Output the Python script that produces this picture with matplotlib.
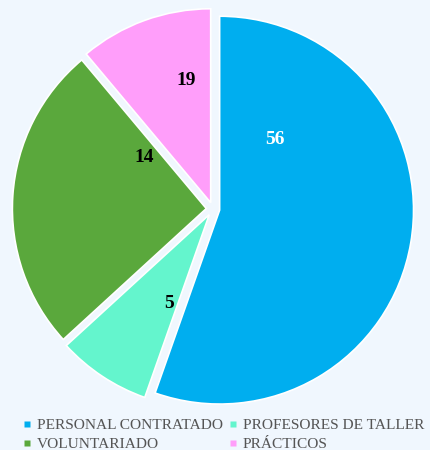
import numpy as np
import matplotlib.pyplot as plt
from matplotlib.lines import Line2D

# slice sizes and the labels shown on them
categories = ["PERSONAL CONTRATADO", "PROFESORES DE TALLER", "VOLUNTARIADO", "PRÁCTICOS"]
sizes = [55.4, 7.8, 25.7, 11.1]
shown_labels = ["56", "5", "14", "19"]
colors = ["#00AEEF", "#64F5CD", "#5AA83C", "#FF9EFA"]
label_colors = ["white", "black", "black", "black"]
# where the labels sit, in pie-radius units from the centre
label_pos = [(0.32, 0.36), (-0.23, -0.49), (-0.36, 0.27), (-0.14, 0.67)]

bg = "#F0F7FE"
W, H = 430, 450
cx, cy, R = 213, 209, 192

fig = plt.figure(figsize=(W / 100, H / 100), dpi=100, facecolor=bg)
ax = fig.add_axes([0, 0, 1, 1])
ax.set_facecolor(bg)

ax.pie(sizes, colors=colors, startangle=90, counterclock=False,
       explode=[0.035] * 4, radius=1.01,
       wedgeprops=dict(edgecolor="white", linewidth=1.2))

ax.set_xlim(-cx / R, (W - cx) / R)
ax.set_ylim(-(H - cy) / R, cy / R)
ax.set_aspect("auto")
ax.axis("off")

for (x, y), txt, c in zip(label_pos, shown_labels, label_colors):
    ax.text(x, y, txt, ha="center", va="center", fontsize=14, fontweight="bold",
            color=c, family="Liberation Serif")

# legend is filled row by row in the reference, matplotlib fills by column
order = [0, 2, 1, 3]
handles = [Line2D([], [], marker="s", linestyle="none", markersize=5,
                  markerfacecolor=colors[i], markeredgecolor="none") for i in order]
fig.legend(handles, [categories[i] for i in order], ncol=2, loc="lower left",
           bbox_to_anchor=(12 / W, -12 / H), frameon=False,
           prop=dict(family="Liberation Serif", size=11.1),
           labelcolor="#555555", handlelength=0.6, handletextpad=0.3,
           columnspacing=0.4, labelspacing=0.35, borderpad=0.2)

fig.savefig("out.png", dpi=100, facecolor=bg)
